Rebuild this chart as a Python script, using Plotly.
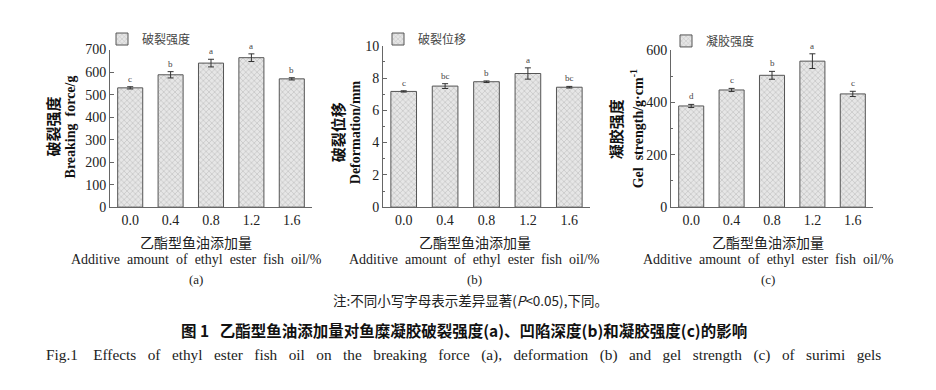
import plotly.graph_objects as go

x_labels = ["0.0", "0.4", "0.8", "1.2", "1.6"]

force_vals = [530, 588, 640, 664, 570]
force_err = [5, 14, 17, 17, 5]
force_sig = ["c", "b", "a", "a", "b"]

deform_vals = [7.17, 7.50, 7.77, 8.28, 7.43]
deform_err = [0.04, 0.15, 0.05, 0.35, 0.05]
deform_sig = ["c", "bc", "b", "a", "bc"]

gel_vals = [386, 447, 503, 557, 432]
gel_err = [6, 6, 15, 28, 10]
gel_sig = ["d", "c", "b", "a", "c"]

# the page body keeps its default 8px margin, so the figure is drawn 8px in
OFF = 8
W, H = 936 - OFF, 390 - OFF
SERIF = "Liberation Serif, Times New Roman, serif"
CJK = "Noto Sans CJK SC, sans-serif"

def px(x):
    return (x - OFF) / W

def py(y):
    return 1 - (y - OFF) / H

panels = [
    dict(vals=force_vals, err=force_err, sig=force_sig, name="破裂强度",
         xd=[110, 312], yt=44, rng=[0, 700], dtick=100, minor=None,
         ytitle_cn="破裂强度", ytitle_en="Breaking  force/g",
         cnx=52, enx=70, ty=124, leg=(102, 33), center=196, tag="(a)"),
    dict(vals=deform_vals, err=deform_err, sig=deform_sig, name="破裂位移",
         xd=[383, 590], yt=40, rng=[0, 10], dtick=2, minor=1,
         ytitle_cn="破裂位移", ytitle_en="Deformation/mm",
         cnx=337, enx=355, ty=130, leg=(378, 33), center=475, tag="(b)"),
    dict(vals=gel_vals, err=gel_err, sig=gel_sig, name="凝胶强度",
         xd=[671, 873], yt=44.3, rng=[0, 600], dtick=200, minor=100,
         ytitle_cn="凝胶强度", ytitle_en="Gel  strength/g·cm<sup>-1</sup>",
         cnx=615, enx=637, ty=127, leg=(666, 35), center=768, tag="(c)"),
]

fig = go.Figure()
annotations = []
layout = dict(width=W, height=H, margin=dict(l=0, r=0, t=0, b=0),
              paper_bgcolor="white", plot_bgcolor="white", showlegend=True)

for i, p in enumerate(panels):
    n = "" if i == 0 else str(i + 1)
    xa, ya = "x" + n, "y" + n
    leg = "legend" if i == 0 else "legend" + n
    fig.add_trace(go.Bar(
        x=list(range(len(x_labels))), y=p["vals"], name=p["name"],
        xaxis=xa, yaxis=ya, legend=leg, showlegend=True, width=0.62,
        marker=dict(color="#e6e6e6",
                    line=dict(color="#555555", width=1),
                    pattern=dict(shape="x", fgcolor="#8a8a8a", bgcolor="#e6e6e6",
                                 size=4, solidity=0.25)),
        error_y=dict(type="data", array=p["err"], visible=True,
                     color="#333333", thickness=1, width=3),
        hoverinfo="skip",
    ))
    dom_x = [px(p["xd"][0]), px(p["xd"][1])]
    dom_y = [py(208), py(p["yt"])]
    xkey = "xaxis" + n
    ykey = "yaxis" + n
    layout[xkey] = dict(domain=dom_x, anchor=ya, range=[-0.5, 4.5],
                        tickmode="array", tickvals=list(range(5)), ticktext=x_labels,
                        showline=True, linecolor="#666666", linewidth=1,
                        ticks="", showgrid=False, zeroline=False,
                        tickfont=dict(family=SERIF, size=14, color="#222222"))
    ydict = dict(domain=dom_y, anchor=xa, range=p["rng"], dtick=p["dtick"],
                 showline=True, linecolor="#666666", linewidth=1,
                 ticks="inside", ticklen=4, tickcolor="#666666",
                 showgrid=False, zeroline=False,
                 tickfont=dict(family=SERIF, size=14, color="#222222"))
    if p["minor"]:
        ydict["minor"] = dict(dtick=p["minor"], ticks="inside", ticklen=2,
                              tickcolor="#666666")
    layout[ykey] = ydict
    layout[leg] = dict(x=px(p["leg"][0]), y=py(p["leg"][1]), xanchor="left",
                       yanchor="middle", bgcolor="rgba(0,0,0,0)",
                       font=dict(family=CJK, size=12, color="#444444"),
                       itemwidth=30)
    # significance letters
    for j, (v, e, s) in enumerate(zip(p["vals"], p["err"], p["sig"])):
        annotations.append(dict(x=j, y=v + e, xref=xa, yref=ya, text=s,
                                showarrow=False, yanchor="bottom", yshift=1,
                                font=dict(family=SERIF, size=9, color="#444444")))
    # y titles
    annotations.append(dict(x=px(p["cnx"]), y=py(p["ty"]), xref="paper", yref="paper",
                            xanchor="center", yanchor="middle",
                            text="<b>" + p["ytitle_cn"] + "</b>", textangle=-90,
                            showarrow=False, font=dict(family=CJK, size=15, color="#111111")))
    annotations.append(dict(x=px(p["enx"]), y=py(p["ty"]), xref="paper", yref="paper",
                            xanchor="center", yanchor="middle",
                            text="<b>" + p["ytitle_en"] + "</b>", textangle=-90,
                            showarrow=False, font=dict(family=SERIF, size=14, color="#111111")))
    # x titles
    annotations.append(dict(x=px(p["center"]), y=py(244), xref="paper", yref="paper",
                            xanchor="center", yanchor="middle",
                            text="乙酯型鱼油添加量", showarrow=False,
                            font=dict(family=CJK, size=14, color="#222222")))
    annotations.append(dict(x=px(p["center"]), y=py(263), xref="paper", yref="paper",
                            xanchor="center", yanchor="middle",
                            text="Additive  amount  of  ethyl  ester  fish  oil/%", showarrow=False,
                            font=dict(family=SERIF, size=14, color="#222222")))
    annotations.append(dict(x=px(p["center"]), y=py(283), xref="paper", yref="paper",
                            xanchor="center", yanchor="middle",
                            text=p["tag"], showarrow=False,
                            font=dict(family=SERIF, size=13, color="#222222")))

annotations.append(dict(x=px(470), y=py(305), xref="paper", yref="paper",
                        xanchor="center", yanchor="middle",
                        text="注:不同小写字母表示差异显著(<i>P</i><0.05),下同。", showarrow=False,
                        font=dict(family=CJK, size=13.5, color="#222222")))
annotations.append(dict(x=px(464), y=py(336), xref="paper", yref="paper",
                        xanchor="center", yanchor="middle",
                        text="<b>图 1   乙酯型鱼油添加量对鱼糜凝胶破裂强度(a)、凹陷深度(b)和凝胶强度(c)的影响</b>",
                        showarrow=False, font=dict(family=CJK, size=15.5, color="#111111")))
annotations.append(dict(x=px(463), y=py(362), xref="paper", yref="paper",
                        xanchor="center", yanchor="middle",
                        text="Fig.1    Effects   of   ethyl   ester   fish   oil   on   the   breaking   force   (a),   deformation   (b)   and   gel   strength   (c)   of   surimi   gels",
                        showarrow=False, font=dict(family=SERIF, size=15.3, color="#222222")))

layout["annotations"] = annotations
fig.update_layout(**layout)
fig.write_html("out.html")
